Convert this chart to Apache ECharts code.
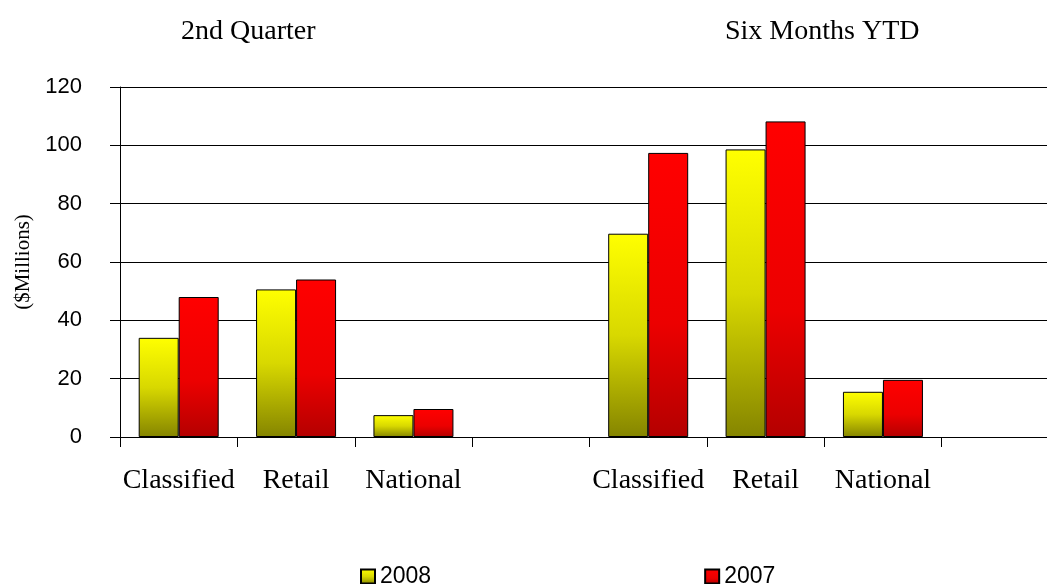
<!DOCTYPE html>
<html>
<head>
<meta charset="utf-8">
<script src="https://cdn.jsdelivr.net/npm/echarts@6/dist/echarts.min.js"></script>
<style>
  html, body { margin: 0; padding: 0; background: #fff; }
  #chart { width: 1047px; height: 584px; }
</style>
</head>
<body>
<div id="chart"></div>
<script>
// groups shown on the x axis, each followed by an empty slot
const groups = ['Classified', 'Retail', 'National']
const periodTitles = ['2nd Quarter', 'Six Months YTD']
const seriesNames = ['2008', '2007']

// $ millions
const quarter2008 = [34, 50.6, 7.5]
const quarter2007 = [48, 54, 9.6]
const ytd2008 = [69.7, 98.6, 15.5]
const ytd2007 = [97.4, 108.2, 19.6]

const yTicks = { min: 0, max: 120, interval: 20 }

const categories = [...groups, '', ...groups, '']
const values2008 = [...quarter2008, null, ...ytd2008, null]
const values2007 = [...quarter2007, null, ...ytd2007, null]

const chart = echarts.init(document.getElementById('chart'))

const yellowFill = new echarts.graphic.LinearGradient(0, 0, 0, 1, [
  { offset: 0, color: '#ffff00' },
  { offset: 0.5, color: '#d8d800' },
  { offset: 1, color: '#858500' }
])
const redFill = new echarts.graphic.LinearGradient(0, 0, 0, 1, [
  { offset: 0, color: '#ff0000' },
  { offset: 0.6, color: '#ec0000' },
  { offset: 1, color: '#b40000' }
])

const serifText = { fontFamily: 'Liberation Serif', fontSize: 28, fontWeight: 'normal', color: '#000' }

const option = {
  animation: false,
  backgroundColor: '#fff',
  title: [
    { text: periodTitles[0], left: 176, top: 13, textStyle: serifText },
    { text: periodTitles[1], left: 720, top: 13, textStyle: serifText }
  ],
  legend: {
    data: seriesNames,
    left: 355,
    top: 560,
    icon: 'rect',
    itemWidth: 14,
    itemHeight: 14,
    itemGap: 273,
    textStyle: { fontFamily: 'Liberation Sans', fontSize: 23, color: '#000' }
  },
  grid: { left: 120, top: 87, height: 350, width: 939, outerBoundsMode: 'none' },
  xAxis: {
    type: 'category',
    data: categories,
    axisLine: { lineStyle: { color: '#000', width: 1 } },
    axisTick: { show: true, interval: 0, length: 10, lineStyle: { color: '#000' } },
    axisLabel: { interval: 0, margin: 30, ...serifText }
  },
  yAxis: {
    type: 'value',
    min: yTicks.min,
    max: yTicks.max,
    interval: yTicks.interval,
    name: '($Millions)',
    nameLocation: 'middle',
    nameGap: 85,
    nameRotate: 90,
    nameTextStyle: { fontFamily: 'Liberation Serif', fontSize: 21, color: '#000' },
    axisLine: { show: true, lineStyle: { color: '#000', width: 1 } },
    axisTick: { show: true, length: 10, lineStyle: { color: '#000' } },
    axisLabel: { margin: 38, fontFamily: 'Liberation Sans', fontSize: 22, color: '#000' },
    splitLine: { show: true, lineStyle: { color: '#000', width: 1 } }
  },
  series: [
    {
      name: seriesNames[0],
      type: 'bar',
      data: values2008,
      barWidth: 40,
      barGap: '0%',
      itemStyle: { color: yellowFill, borderColor: '#000', borderWidth: 1 }
    },
    {
      name: seriesNames[1],
      type: 'bar',
      data: values2007,
      barWidth: 40,
      barGap: '0%',
      itemStyle: { color: redFill, borderColor: '#000', borderWidth: 1 }
    }
  ]
}

chart.setOption(option)
</script>
</body>
</html>
